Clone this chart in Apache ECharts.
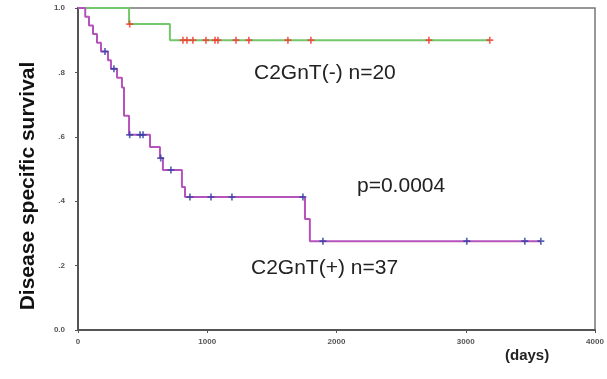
<!DOCTYPE html>
<html>
<head>
<meta charset="utf-8">
<script src="https://cdn.jsdelivr.net/npm/echarts@6/dist/echarts.min.js"></script>
<style>
  html, body { margin: 0; padding: 0; background: #fff; }
  #main { width: 607px; height: 379px; }
</style>
</head>
<body>
<div id="main"></div>
<script>
// x axis ticks (days) and y ticks (survival)
const xTicks = [0, 1000, 2000, 3000, 4000];
const yTicks = [0, 0.2, 0.4, 0.6, 0.8, 1.0];

// C2GnT(-) n=20 : step curve (days, survival after the event)
const negDays = [0, 395, 711, 3186];
const negSurv = [1.0, 0.95, 0.9, 0.9];
// censored cases
const negCensDays = [400, 812, 843, 889, 990, 1060, 1083, 1222, 1322, 1624, 1802, 2715, 3186];
const negCensSurv = [0.95, 0.9, 0.9, 0.9, 0.9, 0.9, 0.9, 0.9, 0.9, 0.9, 0.9, 0.9, 0.9];

// C2GnT(+) n=37
const posDays = [0, 56, 85, 116, 147, 178, 232, 255, 302, 340, 356, 395, 557, 634, 657, 804, 828, 1756, 1794, 3581];
const posSurv = [1.0, 0.973, 0.946, 0.919, 0.892, 0.865, 0.838, 0.811, 0.783, 0.753, 0.665, 0.606, 0.568, 0.534, 0.497, 0.444, 0.413, 0.345, 0.276, 0.276];
const posCensDays = [209, 278, 400, 480, 503, 640, 719, 866, 1029, 1191, 1740, 1895, 3008, 3457, 3581];
const posCensSurv = [0.865, 0.811, 0.606, 0.606, 0.606, 0.534, 0.497, 0.413, 0.413, 0.413, 0.413, 0.276, 0.276, 0.276, 0.276];

const zip = (a, b) => a.map((v, i) => [v, b[i]]);
// small "+" censor mark
const plus = 'path://M0,1.9H5V3.1H0Z M1.9,0H3.1V5H1.9Z';
const FONT = '"Liberation Sans", Arial, sans-serif';

const chart = echarts.init(document.getElementById('main'));
chart.setOption({
  animation: false,
  textStyle: { fontFamily: FONT },
  grid: { left: 78, right: 12, top: 8, bottom: 49, show: true, borderColor: '#777', borderWidth: 1.5 },
  xAxis: {
    type: 'value', min: 0, max: 4000, interval: 1000,
    axisLine: { lineStyle: { color: '#555', width: 2 } },
    axisTick: { show: true, length: 3, lineStyle: { color: '#555' } },
    axisLabel: { fontSize: 8, fontWeight: 'bold', color: '#555', margin: 8,
      formatter: v => xTicks.includes(v) ? String(v) : '' },
    splitLine: { show: false }
  },
  yAxis: {
    type: 'value', min: 0, max: 1, interval: 0.2,
    axisLine: { lineStyle: { color: '#555', width: 2 } },
    axisTick: { show: true, length: 3, lineStyle: { color: '#555' } },
    axisLabel: { fontSize: 8, fontWeight: 'bold', color: '#555', margin: 13,
      formatter: v => {
        const t = yTicks.find(y => Math.abs(y - v) < 1e-6);
        if (t === undefined) return '';
        if (t === 0) return '0.0';
        if (t === 1) return '1.0';
        return t.toFixed(1).replace(/^0/, '');
      } },
    splitLine: { show: false }
  },
  series: [
    {
      type: 'line', step: 'end', data: zip(negDays, negSurv), symbol: 'none',
      lineStyle: { color: '#74c86c', width: 2 }, z: 3
    },
    {
      type: 'scatter', data: zip(negCensDays, negCensSurv), symbol: plus, symbolSize: 7,
      itemStyle: { color: '#f23a2e' }, z: 4
    },
    {
      type: 'line', step: 'end', data: zip(posDays, posSurv), symbol: 'none',
      lineStyle: { color: '#b552bc', width: 2 }, z: 3
    },
    {
      type: 'scatter', data: zip(posCensDays, posCensSurv), symbol: plus, symbolSize: 7,
      itemStyle: { color: '#2f3ea4' }, z: 4
    }
  ],
  graphic: [
    { type: 'text', x: 28, y: 186, rotation: Math.PI / 2,
      style: { text: 'Disease specific survival', font: 'bold 21px ' + FONT, fill: '#111', align: 'center', verticalAlign: 'middle' } },
    { type: 'text', x: 254, y: 73,
      style: { text: 'C2GnT(-) n=20', font: '21px ' + FONT, fill: '#222', verticalAlign: 'middle' } },
    { type: 'text', x: 357, y: 186,
      style: { text: 'p=0.0004', font: '21px ' + FONT, fill: '#222', verticalAlign: 'middle' } },
    { type: 'text', x: 251, y: 268,
      style: { text: 'C2GnT(+) n=37', font: '21px ' + FONT, fill: '#222', verticalAlign: 'middle' } },
    { type: 'text', x: 505, y: 356,
      style: { text: '(days)', font: 'bold 15px ' + FONT, fill: '#222', verticalAlign: 'middle' } }
  ]
});
</script>
</body>
</html>
